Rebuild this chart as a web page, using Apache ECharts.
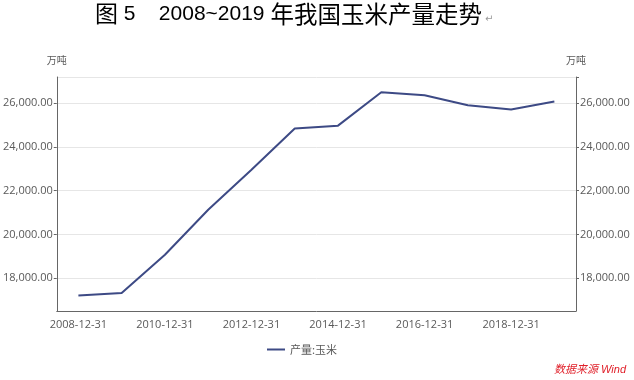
<!DOCTYPE html>
<html>
<head>
<meta charset="utf-8">
<script src="https://cdn.jsdelivr.net/npm/echarts@6/dist/echarts.min.js"></script>
<style>html,body{margin:0;padding:0;background:#fff}#c{width:634px;height:380px}</style>
</head>
<body>
<div id="c"></div>
<script>
const categories = ['2008-12-31','2009-12-31','2010-12-31','2011-12-31','2012-12-31','2013-12-31','2014-12-31','2015-12-31','2016-12-31','2017-12-31','2018-12-31','2019-12-31'];
const cornOutput = [17212, 17326, 19075, 21132, 22956, 24845, 24976, 26499, 26361, 25907, 25717, 26078];
const yTickLabels = [18000, 20000, 22000, 24000, 26000];
const seriesName = '产量:玉米';
const unitName = '万吨';
const sourceText = '数据来源 Wind';

const chart = echarts.init(document.getElementById('c'), null, {renderer: 'canvas'});
const fmt = v => Number(v).toLocaleString('en-US', {minimumFractionDigits: 2, maximumFractionDigits: 2});
const axisGray = '#666';
const labelGray = '#595959';
const yMin = 16500, yMax = 27200;

function yAxisCfg(pos, withSplit) {
  return {
    type: 'value', position: pos, min: yMin, max: yMax,
    name: unitName, nameLocation: 'end', nameGap: 12,
    nameTextStyle: {color: labelGray, fontSize: 10, fontFamily: 'Noto Sans CJK SC', align: 'center'},
    axisLine: {show: true, lineStyle: {color: axisGray, width: 1}},
    axisTick: {show: true, length: 3, lineStyle: {color: axisGray}, customValues: withSplit ? yTickLabels.concat([yMax]) : yTickLabels},
    axisLabel: {color: labelGray, fontSize: 11, fontFamily: 'Open Sans', margin: 4, customValues: yTickLabels, formatter: fmt},
    splitLine: {show: withSplit, lineStyle: {color: '#e6e6e6', width: 1}}
  };
}

chart.setOption({
  animation: false,
  backgroundColor: '#fff',
  grid: {left: 53, right: 58, top: 77, bottom: 69, containLabel: false},
  xAxis: {
    type: 'category', data: categories, boundaryGap: true,
    axisLine: {lineStyle: {color: axisGray}},
    axisTick: {alignWithLabel: true, interval: 1, length: 4, lineStyle: {color: axisGray}},
    axisLabel: {interval: 1, color: labelGray, fontSize: 11, fontFamily: 'Open Sans', margin: 8}
  },
  yAxis: [yAxisCfg('left', false), yAxisCfg('right', true)],
  legend: {
    data: [seriesName], left: 262, top: 339, icon: 'rect', itemWidth: 18, itemHeight: 2, itemGap: 4,
    textStyle: {color: labelGray, fontSize: 11, fontFamily: 'Noto Sans CJK SC'}
  },
  series: [{
    name: seriesName, type: 'line', data: cornOutput, yAxisIndex: 0,
    symbol: 'none', smooth: false,
    lineStyle: {color: '#3d4a85', width: 2},
    itemStyle: {color: '#3d4a85'}
  }],
  graphic: [
    {type: 'text', left: 95, top: 2, style: {
      text: '{a|图}{b| 5    2008~2019 }{c|年我国玉米产量走势}',
      fill: '#000',
      rich: {
        a: {fontSize: 23, fontFamily: 'Noto Sans CJK SC', fill: '#000'},
        b: {fontSize: 21, fontFamily: 'Liberation Sans', fill: '#000'},
        c: {fontSize: 23.5, fontFamily: 'Noto Sans CJK SC', fill: '#000'}
      }
    }},
    {type: 'text', x: 485, y: 24, style: {text: '↵', fill: '#999', fontSize: 10, fontFamily: 'DejaVu Sans', verticalAlign: 'bottom'}},
    {type: 'text', right: 8, top: 364, style: {text: sourceText, fill: '#e0202a', fontSize: 11, fontStyle: 'italic', fontFamily: 'Liberation Sans, Noto Sans CJK SC'}}
  ]
});
</script>
</body>
</html>
